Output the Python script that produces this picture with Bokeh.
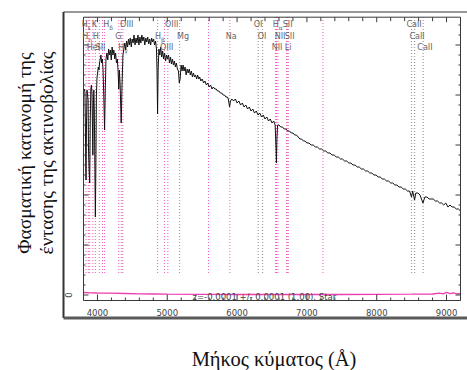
import math
from bokeh.plotting import figure
from bokeh.models import Range1d, Label, ColumnDataSource
from bokeh.embed import file_html
from bokeh.resources import INLINE
from bokeh.core.properties import value

# ---------------- data ----------------
wave = [3812, 3820, 3826, 3832, 3836, 3842, 3850, 3858, 3866, 3872, 3880, 3889, 3897, 3905,
        3914, 3922, 3928, 3934, 3940, 3948, 3955, 3962, 3970, 3977, 3985, 3993, 4002, 4012,
        4022, 4030, 4040, 4050, 4060, 4070, 4080, 4092, 4102, 4112, 4122, 4135, 4148, 4160,
        4172, 4185, 4198, 4210, 4222, 4235, 4248, 4260, 4272, 4285, 4298, 4305, 4314, 4325,
        4340, 4352, 4365, 4378, 4392, 4405, 4418, 4432, 4445, 4458, 4470, 4484, 4497, 4510,
        4524, 4538, 4552, 4566, 4580, 4594, 4608, 4622, 4636, 4650, 4664, 4678, 4692, 4706,
        4720, 4734, 4748, 4762, 4776, 4790, 4804, 4818, 4832, 4845, 4853, 4861, 4869, 4880,
        4893, 4906, 4920, 4934, 4948, 4962, 4976, 4990, 5004, 5018, 5032, 5046, 5060, 5074,
        5088, 5102, 5116, 5130, 5145, 5160, 5172, 5184, 5198, 5212, 5226, 5240, 5255, 5270,
        5285, 5300, 5315, 5330, 5345, 5360, 5375, 5390, 5405, 5420, 5435, 5450, 5465, 5480,
        5500, 5520, 5540, 5560, 5580, 5600, 5620, 5640, 5660, 5680, 5700, 5720, 5740, 5760,
        5780, 5800, 5820, 5840, 5860, 5875, 5892, 5905, 5925, 5950, 5975, 6000, 6025, 6050,
        6075, 6100, 6125, 6150, 6175, 6200, 6225, 6250, 6275, 6300, 6325, 6350, 6375, 6400,
        6425, 6450, 6475, 6500, 6525, 6545, 6556, 6563, 6570, 6580, 6600, 6625, 6650, 6675,
        6700, 6725, 6750, 6775, 6800, 6825, 6850, 6875, 6900, 6925, 6950, 6975, 7000, 7030,
        7060, 7090, 7120, 7150, 7180, 7210, 7240, 7270, 7300, 7330, 7360, 7390, 7420, 7450,
        7480, 7510, 7540, 7570, 7600, 7630, 7660, 7690, 7720, 7750, 7780, 7810, 7840, 7870,
        7900, 7930, 7960, 7990, 8020, 8050, 8080, 8110, 8140, 8170, 8200, 8230, 8260, 8290,
        8320, 8350, 8380, 8410, 8440, 8470, 8498, 8515, 8542, 8560, 8590, 8620, 8662, 8690,
        8720, 8750, 8780, 8810, 8840, 8870, 8900, 8930, 8960, 8990, 9020, 9050, 9080, 9110,
        9140, 9170, 9200]
flux = [206, 203, 175, 135, 115, 165, 205, 200, 195, 145, 125, 112, 175, 206,
        210, 200, 170, 140, 185, 205, 185, 135, 78, 125, 200, 217, 222, 228,
        225, 232, 236, 240, 232, 236, 225, 195, 165, 205, 236, 242, 235, 246,
        240, 245, 235, 248, 240, 245, 236, 242, 232, 236, 220, 206, 225, 210,
        172, 210, 240, 246, 252, 245, 254, 248, 256, 250, 257, 248, 256, 252,
        260, 250, 257, 252, 260, 250, 258, 252, 260, 254, 258, 250, 257, 253,
        258, 251, 256, 250, 257, 253, 256, 250, 254, 246, 225, 181, 225, 246,
        240, 248, 238, 244, 236, 242, 234, 240, 236, 240, 232, 238, 231, 236,
        230, 234, 228, 232, 226, 224, 212, 216, 230, 224, 230, 224, 228, 220,
        226, 222, 226, 220, 224, 218, 222, 218, 220, 216, 220, 216, 218, 214,
        216, 212, 214, 210, 212, 208, 210, 206, 208, 206, 206, 204, 204, 202,
        202, 200, 200, 198, 198, 196, 188, 194, 196, 194, 196, 192, 194, 190,
        192, 188, 190, 186, 188, 184, 186, 182, 184, 180, 182, 178, 180, 176,
        178, 174, 176, 172, 174, 170, 150, 132, 155, 170, 170, 168, 168, 166,
        166, 164, 164, 162, 162, 160, 160, 158, 156, 156, 154, 154, 152, 152,
        150, 150, 148, 148, 146, 146, 144, 144, 142, 142, 140, 140, 138, 138,
        136, 136, 134, 134, 132, 132, 130, 130, 128, 128, 126, 126, 124, 124,
        122, 122, 120, 120, 118, 118, 116, 116, 114, 114, 112, 112, 110, 110,
        108, 108, 106, 106, 104, 104, 98, 104, 95, 102, 102, 100, 92, 98,
        98, 96, 96, 96, 94, 94, 92, 92, 90, 92, 88, 90, 88, 88,
        86, 86, 84]

err_wave = [3800, 3900, 4000, 4200, 4400, 4600, 4800, 5000, 5500, 6000, 6500, 7000,
            7500, 8000, 8500, 8800, 8900, 8950, 9000, 9050, 9100, 9150, 9200]
err_flux = [2.5, 2.2, 2.0, 1.8, 1.5, 1.2, 1.0, 0.8, 0.6, 0.5, 0.5, 0.5,
            0.5, 0.6, 0.8, 1.0, 1.8, 1.2, 2.6, 1.4, 2.2, 1.0, 1.6]

line_wave = [3836, 3869, 3889, 3934, 3970, 4026, 4072, 4102, 4305, 4341, 4364, 4862,
             4960, 5008, 5177, 5590, 5896, 6302, 6366, 6550, 6565, 6585, 6709, 6718,
             6733, 7230, 8500, 8544, 8665]
line_kind = ["m", "m", "m", "m", "m", "m", "m", "m", "m", "m", "m", "m",
             "m", "m", "m", "m", "m", "g", "g", "m", "m", "m", "m", "m",
             "m", "m", "g", "g", "g"]

label_text = ["H", "K", "H", "OIII", "OIII", "OI", "H", "SII", "CaII",
              "H", "H", "G", "H", "Mg", "Na", "OI", "NII", "SII", "CaII",
              "HeI", "SII", "H", "OIII", "NII", "Li", "CaII"]
label_sub = ["ε", "", "δ", "", "", "", "α", "", "",
             "η", "", "", "β", "", "", "", "", "", "",
             "", "", "γ", "", "", "", ""]
label_wave = [3774, 3917, 4082, 4324, 4967, 6239, 6511, 6654, 8425,
              3781, 3931, 4253, 4825, 5139, 5839, 6296, 6539, 6682, 8468,
              3846, 3974, 4296, 4896, 6496, 6682, 8582]
label_row = [1, 1, 1, 1, 1, 1, 1, 1, 1,
             2, 2, 2, 2, 2, 2, 2, 2, 2, 2,
             3, 3, 3, 3, 3, 3, 3]

x_major_ticks = [4000, 5000, 6000, 7000, 8000, 9000]
x_minor_ticks = [3800, 4200, 4400, 4600, 4800, 5200, 5400, 5600, 5800, 6200, 6400, 6600,
                 6800, 7200, 7400, 7600, 7800, 8200, 8400, 8600, 8800, 9200]
y_major_ticks = [0, 50, 100, 150, 200, 250]
y_minor_ticks = [10, 20, 30, 40, 60, 70, 80, 90, 110, 120, 130, 140, 160, 170, 180, 190,
                 210, 220, 230, 240, 260, 270]

y_title = ["Φασματική κατανομή της", "έντασης της ακτινοβολίας"]
x_title = "Μήκος κύματος (Å)"
fit_text = "z=-0.0001 +/- 0.0001 (1.00), Star"

# ---------------- layout constants ----------------
X_MIN, X_MAX = 3800, 9200          # spectrum box
Y_MIN, Y_MAX = -5.5, 277.8
BOX_LEFT_PX, BOX_RIGHT_PX = 83, 460  # where that box sits on the page
PX = (X_MAX - X_MIN) / (BOX_RIGHT_PX - BOX_LEFT_PX)   # Angstrom per pixel
W, H = 467, 370
Y_TOP_AT0 = 294.5                  # flux 0 is 294.5 px below the top

MAG = "#ec3fae"
GRAY_LINE = "#8a8a8a"
AX = "#3a3a3a"
TXT = "#444444"

p = figure(width=W, height=H, output_backend="svg", toolbar_location=None,
           x_range=Range1d(X_MIN - BOX_LEFT_PX * PX, X_MAX + (W - BOX_RIGHT_PX) * PX),
           y_range=Range1d(Y_TOP_AT0 - H, Y_TOP_AT0),
           x_axis_location=None, y_axis_location=None,
           min_border=0)
p.grid.visible = False
p.outline_line_color = None
p.background_fill_color = "white"
p.border_fill_color = "white"

def xpx(px):   # page pixel -> wavelength
    return X_MIN + (px - BOX_LEFT_PX) * PX

def ypx(py):   # page pixel -> flux
    return Y_TOP_AT0 - py

# outer frame
fl, ft, fb = xpx(63), ypx(11.5), ypx(317.5)
xr_end = p.x_range.end
p.segment(x0=[fl], y0=[fb], x1=[fl], y1=[ft], line_color="#333333", line_width=2)
p.segment(x0=[fl], y0=[ft], x1=[xr_end], y1=[ft], line_color="#333333", line_width=1)
p.segment(x0=[fl], y0=[fb], x1=[xr_end], y1=[fb], line_color="#5a5a5a", line_width=3)

# spectral line markers
mw = [w for w, k in zip(line_wave, line_kind) if k == "m"]
gw = [w for w, k in zip(line_wave, line_kind) if k == "g"]
p.segment(x0=mw, x1=mw, y0=22, y1=Y_MAX, line_color=MAG, line_width=1,
          line_dash="1 2", line_alpha=0.85)
p.segment(x0=gw, x1=gw, y0=22, y1=Y_MAX, line_color=GRAY_LINE, line_width=1,
          line_dash="1 2")

# spectrum and error
p.line(wave, flux, line_color="#111111", line_width=1)
p.line(err_wave, err_flux, line_color=MAG, line_width=1.3)

# inner box with inward ticks
p.quad(left=[X_MIN], right=[X_MAX], bottom=[Y_MIN], top=[Y_MAX],
       fill_color=None, line_color=AX, line_width=1)
p.segment(x0=x_major_ticks, x1=x_major_ticks, y0=Y_MIN, y1=Y_MIN + 6, line_color=AX)
p.segment(x0=x_minor_ticks, x1=x_minor_ticks, y0=Y_MIN, y1=Y_MIN + 3, line_color=AX)
p.segment(x0=x_major_ticks, x1=x_major_ticks, y0=Y_MAX, y1=Y_MAX - 5, line_color=AX)
p.segment(x0=x_minor_ticks, x1=x_minor_ticks, y0=Y_MAX, y1=Y_MAX - 4, line_color=AX)
p.segment(x0=X_MIN, x1=X_MIN + 5 * PX, y0=y_major_ticks, y1=y_major_ticks, line_color=AX)
p.segment(x0=X_MIN, x1=X_MIN + 2 * PX, y0=y_minor_ticks, y1=y_minor_ticks, line_color=AX)
p.segment(x0=X_MAX, x1=X_MAX - 5 * PX, y0=y_major_ticks, y1=y_major_ticks, line_color=AX)
p.segment(x0=X_MAX, x1=X_MAX - 2 * PX, y0=y_minor_ticks, y1=y_minor_ticks, line_color=AX)

# tick labels
p.text(x=x_major_ticks, y=[ypx(311.7)] * len(x_major_ticks),
       text=[str(t) for t in x_major_ticks], text_font=value("DejaVu Sans"),
       text_font_size="8.5px", text_color=TXT, text_align="center",
       text_baseline="alphabetic")
p.text(x=[xpx(67.5)], y=[0], text=["0"], angle=math.pi / 2,
       text_font=value("DejaVu Sans"), text_font_size="8.5px", text_color=TXT,
       text_align="center", text_baseline="middle")

# line labels
row_y = {1: ypx(24), 2: ypx(35.5), 3: ypx(47)}
lab_src = ColumnDataSource(dict(x=label_wave, y=[row_y[r] for r in label_row],
                                text=label_text, sub=label_sub))
p.text(x="x", y="y", text="text", source=lab_src, text_font=value("DejaVu Sans"),
       text_font_size="8px", text_color="#666666", text_baseline="middle",
       text_align="left")
p.text(x="x", y="y", text="sub", source=lab_src, text_font=value("DejaVu Sans"),
       text_font_size="6px", text_color="#666666", text_baseline="middle",
       text_align="left", x_offset=6, y_offset=3)

# fit text
p.add_layout(Label(x=xpx(192), y=ypx(296), text=fit_text, text_font="DejaVu Sans",
                   text_font_size="8.5px", text_color=TXT,
                   text_baseline="alphabetic", text_align="left"))

# axis titles
for cx, line in zip([23.5, 46], y_title):
    p.add_layout(Label(x=cx, y=152.5, x_units="canvas", y_units="canvas", text=line,
                       angle=math.pi / 2, text_align="center", text_baseline="middle",
                       text_font="Liberation Serif", text_font_size="19.5px",
                       text_color="#111111"))
p.add_layout(Label(x=273.5, y=358, x_units="canvas", y_units="canvas", text=x_title,
                   text_align="center", text_baseline="alphabetic",
                   text_font="Liberation Serif", text_font_size="20.5px",
                   text_color="#111111"))

open("out.html", "w").write(file_html(p, INLINE))
